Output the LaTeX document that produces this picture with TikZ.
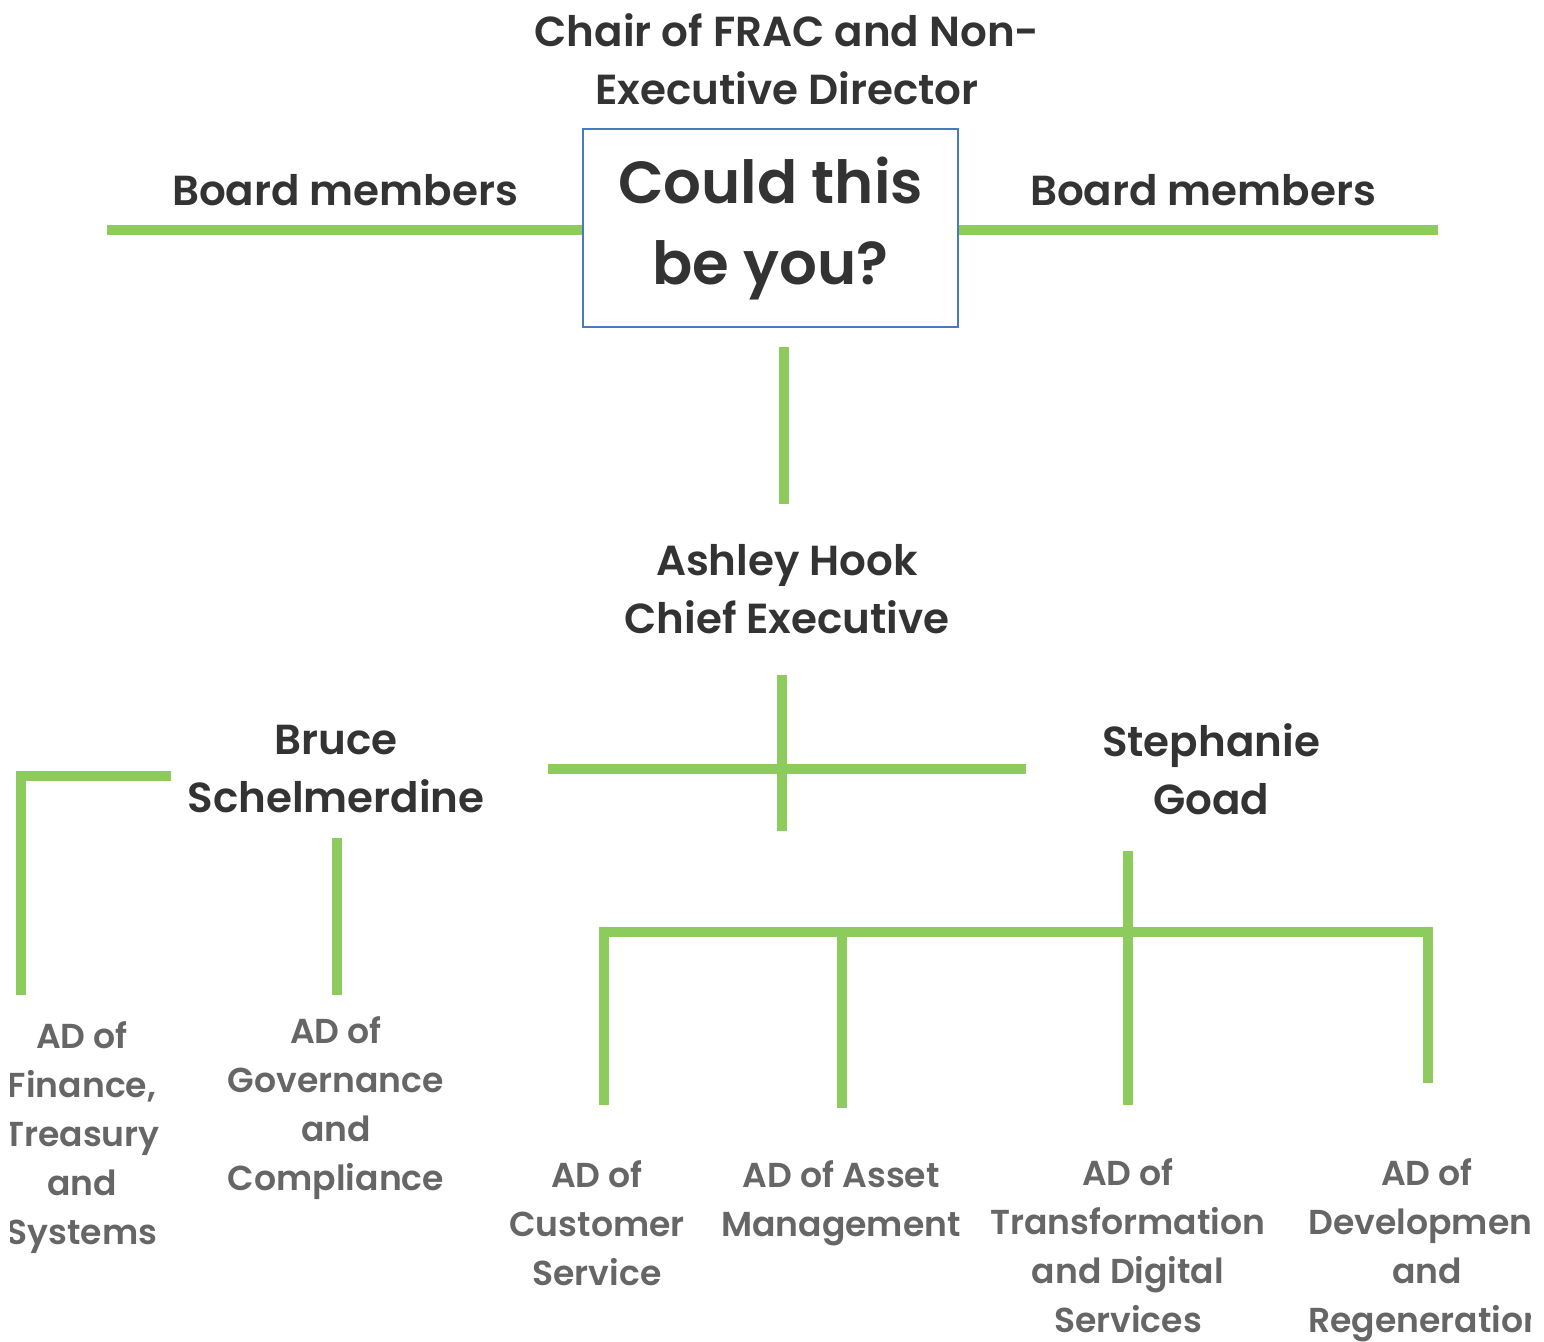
\documentclass[tikz,border=0pt]{standalone}
\usepackage{fontspec}
\setmainfont{Poppins}[BoldFont={Poppins SemiBold}]
\usepackage{xcolor}
\usepackage{tikz}
\definecolor{chartgreen}{RGB}{141, 204, 92}
\definecolor{boxblue}{RGB}{74, 122, 190}
\definecolor{headgray}{RGB}{51, 51, 51}
\definecolor{rolegray}{RGB}{102, 102, 102}
\usetikzlibrary{positioning, calc}

\begin{document}
\begin{tikzpicture}[
    x=0.5pt, y=-0.5pt,
    head/.style={align=center, inner sep=0pt, text=headgray,
                 font=\fontsize{21}{29}\selectfont\bfseries},
    role/.style={align=center, inner sep=0pt, text=rolegray,
                 font=\fontsize{17.3}{24.5}\selectfont\bfseries},
    vacancy/.style={rectangle, draw=boxblue, line width=1pt, text=headgray,
                    minimum width=187.5pt, minimum height=99pt, align=center,
                    font=\fontsize{29.7}{40.5}\selectfont\bfseries},
    link/.style={draw=chartgreen, line width=5pt}
]
    \useasboundingbox (0,0) rectangle (1544,1341);

    % board level
    \node[head] (chair) at (787,59) {Chair of FRAC and Non-\\Executive Director};
    \node[vacancy] (vacant) at (770.5,228) {Could this\\be you?};
    \node[head] (boardL) at (345,190) {Board members};
    \node[head] (boardR) at (1203,190) {Board members};
    \coordinate (boardLend) at (107,230);
    \coordinate (boardRend) at (1438,230);
    \draw[link] (boardLend) -- (boardLend -| vacant.west);
    \draw[link] (boardRend -| vacant.east) -- (boardRend);

    % chief executive
    \node[head] (ceo) at (787,589) {Ashley Hook\\Chief Executive};
    \coordinate (ceoUp) at (784,347);
    \coordinate (ceoUpEnd) at (784,504);
    \draw[link] (ceoUp) -- (ceoUpEnd);
    \coordinate (crossTop) at (782,675);
    \coordinate (crossBot) at (782,831);
    \coordinate (crossL) at (548,769);
    \coordinate (crossR) at (1026,769);
    \draw[link] (crossTop) -- (crossBot);
    \draw[link] (crossL) -- (crossR);

    % directors
    \node[head] (bruce) at (336,769) {Bruce\\Schelmerdine};
    \node[head] (steph) at (1211,769) {Stephanie\\Goad};

    % Bruce's side
    \coordinate (finTop) at (21,995);
    \coordinate (bruceL) at (171,776);
    \draw[link] (finTop) |- (bruceL);
    \coordinate (govUp) at (337,838);
    \coordinate (govTop) at (337,995);
    \draw[link] (govUp) -- (govTop);

    % Stephanie's side
    \coordinate (stephUp) at (1128,851);
    \coordinate (bus) at (1128,932);
    \coordinate (custTop) at (604,1105);
    \coordinate (assetTop) at (842,1108);
    \coordinate (transTop) at (1128,1105);
    \coordinate (devTop) at (1428,1083);
    \draw[link] (stephUp) -- (transTop);
    \draw[link] (custTop) |- (bus) -| (devTop);
    \draw[link] (assetTop) -- (assetTop |- bus);

    % assistant directors
    \begin{scope}
        \clip (10,980) rectangle (1530,1341);
        \node[role] (fin) at (82,1138) {AD of\\Finance,\\Treasury\\and\\Systems};
        \node[role] (gov) at (336,1108) {AD of\\Governance\\and\\Compliance};
        \node[role] (cust) at (597,1223) {AD of\\Customer\\Service};
        \node[role] (asset) at (841,1203) {AD of Asset\\Management};
        \node[role] (trans) at (1128,1246) {AD of\\Transformation\\and Digital\\Services};
        \node[role] (dev) at (1427,1250) {AD of\\Development\\and\\Regeneration};
    \end{scope}
\end{tikzpicture}
\end{document}
